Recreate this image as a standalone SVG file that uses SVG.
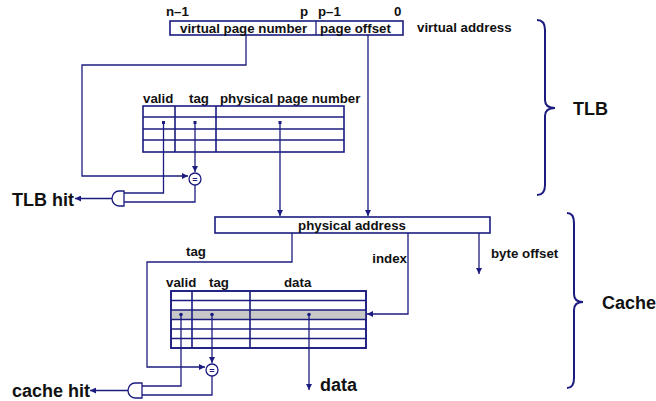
<svg xmlns="http://www.w3.org/2000/svg" width="656" height="401" viewBox="0 0 656 401">
  <defs>
    <marker id="arrow" viewBox="0 0 10 10" refX="10" refY="5" markerWidth="6" markerHeight="6" markerUnits="userSpaceOnUse" orient="auto">
      <path d="M0,0 L10,5 L0,10 Z" fill="#1c1c80"/>
    </marker>
    <style>
      .ln { fill: none; stroke: #1c1c80; stroke-width: 1.3; }
      .tb { fill: #ffffff; stroke: #1c1c80; stroke-width: 1.6; }
      .gl { fill: none; stroke: #1c1c80; stroke-width: 1.6; }
      .t { font-family: "Liberation Sans", Arial, sans-serif; font-weight: bold; font-size: 13.3px; fill: #111111; }
      .big { font-family: "Liberation Sans", Arial, sans-serif; font-weight: bold; font-size: 18px; fill: #111111; }
      .eq { font-family: "Liberation Sans", Arial, sans-serif; font-weight: bold; font-size: 9px; fill: #1c1c80; }
      .dot { fill: #1c1c80; }
      .gate { fill: #ffffff; stroke: #1c1c80; stroke-width: 1.3; }
      .brace { fill: none; stroke: #1c1c80; stroke-width: 2; }
    </style>
  </defs>
  <rect width="656" height="401" fill="#ffffff"/>

  <!-- virtual address -->
  <g id="virtual-address">
    <rect x="170" y="21" width="233" height="14" class="tb" stroke-width="1.3"/>
    <line x1="316" y1="21" x2="316" y2="35" class="ln"/>
    <text x="180" y="33" class="t">virtual page number</text>
    <text x="320" y="33" class="t">page offset</text>
    <text x="166" y="16" class="t">n–1</text>
    <text x="300" y="16" class="t">p</text>
    <text x="318" y="16" class="t">p–1</text>
    <text x="394" y="16" class="t">0</text>
    <text x="417" y="32" class="t">virtual address</text>
  </g>

  <!-- TLB table -->
  <g id="tlb">
    <text x="143" y="103" class="t">valid</text>
    <text x="189" y="103" class="t">tag</text>
    <text x="220" y="103" class="t">physical page number</text>
    <rect x="143" y="106" width="201" height="46" class="tb"/>
    <line x1="143" y1="117" x2="344" y2="117" class="gl"/>
    <line x1="143" y1="129" x2="344" y2="129" class="gl"/>
    <line x1="143" y1="140" x2="344" y2="140" class="gl"/>
    <line x1="175" y1="106" x2="175" y2="152" class="gl"/>
    <line x1="216" y1="106" x2="216" y2="152" class="gl"/>
    <rect x="162" y="121" width="3" height="3" class="dot"/>
    <rect x="193.5" y="121" width="3" height="3" class="dot"/>
    <rect x="278.5" y="121" width="3" height="3" class="dot"/>
  </g>

  <!-- TLB comparator -->
  <g id="tlb-compare">
    <circle cx="195" cy="179" r="6" fill="#ffffff" stroke="#1c1c80" stroke-width="1.3"/>
    <text x="195" y="182.5" class="eq" text-anchor="middle">=</text>
  </g>

  <!-- TLB AND gate -->
  <g id="tlb-and">
    <path d="M124,191 L119,191 A7,7.5 0 0 0 119,206 L124,206 Z" class="gate"/>
    <text x="12" y="206" class="big">TLB hit</text>
  </g>

  <!-- physical address -->
  <g id="physical-address">
    <rect x="215" y="217" width="275" height="16" class="tb" stroke-width="1.3"/>
    <text x="352" y="230" class="t" text-anchor="middle">physical address</text>
    <text x="186" y="256" class="t">tag</text>
    <text x="407" y="263" class="t" text-anchor="end">index</text>
    <text x="491" y="258" class="t">byte offset</text>
  </g>

  <!-- cache table -->
  <g id="cache">
    <text x="166" y="287" class="t">valid</text>
    <text x="209" y="287" class="t">tag</text>
    <text x="284" y="287" class="t">data</text>
    <rect x="171" y="291" width="195" height="57" class="tb"/>
    <rect x="171" y="310" width="195" height="9.5" fill="#c8c8c8"/>
    <line x1="171" y1="300.5" x2="366" y2="300.5" class="gl"/>
    <line x1="171" y1="310" x2="366" y2="310" class="gl"/>
    <line x1="171" y1="319.5" x2="366" y2="319.5" class="gl"/>
    <line x1="171" y1="329" x2="366" y2="329" class="gl"/>
    <line x1="171" y1="338.5" x2="366" y2="338.5" class="gl"/>
    <line x1="192" y1="291" x2="192" y2="348" class="gl"/>
    <line x1="250" y1="291" x2="250" y2="348" class="gl"/>
    <rect x="171" y="291" width="195" height="57" fill="none" stroke="#1c1c80" stroke-width="1.6"/>
    <circle cx="181" cy="314.5" r="1.8" class="dot"/>
    <circle cx="212" cy="314.5" r="1.8" class="dot"/>
    <circle cx="309" cy="314.5" r="1.8" class="dot"/>
    <text x="320" y="391" class="big">data</text>
  </g>

  <!-- cache comparator -->
  <g id="cache-compare">
    <circle cx="212" cy="370" r="6" fill="#ffffff" stroke="#1c1c80" stroke-width="1.3"/>
    <text x="212" y="373.5" class="eq" text-anchor="middle">=</text>
  </g>

  <!-- cache AND gate -->
  <g id="cache-and">
    <path d="M142,383 L135,383 A7,7.5 0 0 0 135,398 L142,398 Z" class="gate"/>
    <text x="12" y="397" class="big">cache hit</text>
  </g>

  <!-- braces -->
  <g id="tlb-brace">
    <path d="M537,20 Q545,20 545,30 L545,100 Q545,108 555,108 Q545,108 545,116 L545,185 Q545,195 537,195" class="brace"/>
    <text x="573" y="115" class="big">TLB</text>
  </g>
  <g id="cache-brace">
    <path d="M567,213 Q574,213 574,223 L574,294 Q574,302 583,302 Q574,302 574,310 L574,378 Q574,388 567,388" class="brace"/>
    <text x="602" y="309" class="big">Cache</text>
  </g>

  <!-- connectors -->
  <g id="connectors">
    <!-- virtual page number to TLB comparator -->
    <polyline points="246,35 246,65 82,65 82,176 188,176" class="ln" marker-end="url(#arrow)"/>
    <!-- TLB tag to comparator -->
    <polyline points="195,123 195,172" class="ln" marker-end="url(#arrow)"/>
    <!-- TLB valid to AND gate -->
    <polyline points="163.5,123 163.5,193 124,193" class="ln"/>
    <!-- comparator to AND gate -->
    <polyline points="195,185 195,202 124,202" class="ln"/>
    <!-- AND gate output -->
    <line x1="112" y1="198.5" x2="75" y2="198.5" class="ln" marker-end="url(#arrow)"/>
    <!-- physical page number to physical address -->
    <line x1="280" y1="123" x2="280" y2="216" class="ln" marker-end="url(#arrow)"/>
    <!-- page offset to physical address -->
    <line x1="368" y1="35" x2="368" y2="216" class="ln" marker-end="url(#arrow)"/>
    <!-- physical tag to cache comparator -->
    <polyline points="292,233 292,262 147,262 147,367 205,367" class="ln" marker-end="url(#arrow)"/>
    <!-- index to cache row -->
    <polyline points="408,233 408,314 367,314" class="ln" marker-end="url(#arrow)"/>
    <!-- byte offset -->
    <line x1="479" y1="233" x2="479" y2="274" class="ln" marker-end="url(#arrow)"/>
    <!-- cache tag to comparator -->
    <line x1="212" y1="314.5" x2="212" y2="363" class="ln" marker-end="url(#arrow)"/>
    <!-- cache valid to AND gate -->
    <polyline points="181,314.5 181,386 142,386" class="ln"/>
    <!-- comparator to AND gate -->
    <polyline points="212,376 212,395 142,395" class="ln"/>
    <!-- AND gate output -->
    <line x1="128" y1="390.5" x2="90" y2="390.5" class="ln" marker-end="url(#arrow)"/>
    <!-- data out -->
    <line x1="309" y1="314.5" x2="309" y2="390" class="ln" marker-end="url(#arrow)"/>
  </g>
</svg>
